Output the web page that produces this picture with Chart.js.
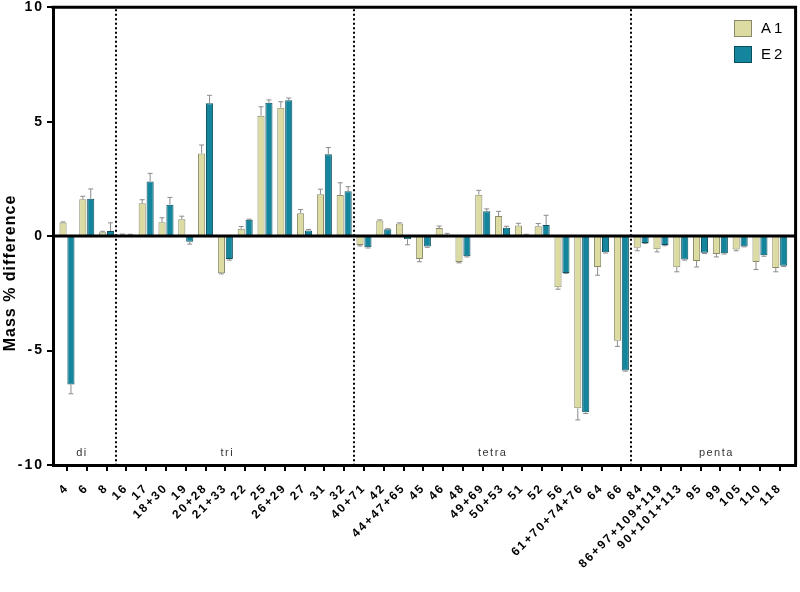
<!DOCTYPE html>
<html><head><meta charset="utf-8">
<script src="https://cdn.jsdelivr.net/npm/chart.js@4"></script>
<style>html,body{margin:0;padding:0;background:#fff}</style>
</head><body>
<canvas id="c" width="800" height="592" style="width:800px;height:592px;display:block"></canvas>
<script>
const categories = ['4','6','8','16','17','18+30','19','20+28','21+33','22','25','26+29','27','31','32',
  '40+71','42','44+47+65','45','46','48','49+69','50+53','51','52','56','61+70+74+76','64','66',
  '84','86+97+109+119','90+101+113','95','99','105','110','118'];
const a1Values = [0.59,1.61,0.17,0.05,1.43,0.61,0.74,3.61,-1.62,0.32,5.26,5.61,1.00,1.83,1.80,
  -0.39,0.68,0.55,-1.00,0.35,-1.13,1.81,0.88,0.46,0.43,-2.23,-7.52,-1.35,-4.57,
  -0.51,-0.57,-1.36,-1.09,-0.78,-0.58,-1.13,-1.39];
const a1Errors = [0.03,0.13,0.04,0.04,0.16,0.19,0.13,0.37,0.03,0.10,0.39,0.26,0.16,0.22,0.53,
  0.04,0.03,0.03,0.12,0.09,0.04,0.19,0.20,0.10,0.12,0.09,0.51,0.36,0.25,
  0.13,0.12,0.20,0.26,0.13,0.06,0.33,0.17];
const e2Values = [-6.48,1.63,0.22,0.02,2.39,1.37,-0.25,5.80,-1.00,0.71,5.83,5.94,0.25,3.58,1.96,
  -0.49,0.30,-0.14,-0.45,0.04,-0.88,1.09,0.36,0.06,0.49,-1.61,-7.70,-0.71,-5.87,
  -0.30,-0.39,-1.02,-0.73,-0.75,-0.45,-0.84,-1.30];
const e2Errors = [0.41,0.43,0.36,0.06,0.35,0.32,0.10,0.35,0.05,0.03,0.12,0.09,0.04,0.29,0.20,
  0.03,0.02,0.24,0.04,0.08,0.03,0.10,0.07,0.02,0.42,0.02,0.05,0.03,0.03,
  0.02,0.03,0.03,0.03,0.03,0.02,0.04,0.03];
const seriesNames = ['A1','E2'];
const yTicks = [-10,-5,0,5,10];
const groupNames = ['di','tri','tetra','penta'];
const groupDividers = [2.5, 14.5, 28.5];
const groupLabelAt = [0.76, 8.1, 21.5, 32.8];

const A1_FILL = '#dcdca2', A1_BORDER = '#8a8a6a';
const E2_FILL = '#13869d', E2_BORDER = '#0b4e5c';
const FONT = "'Liberation Sans', Arial, Helvetica, sans-serif";

const errorsBy = [a1Errors, e2Errors];

const decor = {
  id: 'decor',
  beforeUpdate(chart) { chart.ctx.letterSpacing = '2px'; },
  beforeDraw(chart) { chart.ctx.letterSpacing = '2px'; },
  afterDatasetsDraw(chart) {
    const ctx = chart.ctx, ys = chart.scales.y, xs = chart.scales.x, ca = chart.chartArea;
    ctx.save();
    ctx.strokeStyle = '#8c8c8c';
    ctx.lineWidth = 1;
    chart.data.datasets.forEach((ds, di) => {
      const meta = chart.getDatasetMeta(di);
      meta.data.forEach((el, i) => {
        const v = ds.data[i].y, e = errorsBy[di][i];
        const s = v >= 0 ? 1 : -1;
        const yEnd = ys.getPixelForValue(v + s * e);
        const yStart = ys.getPixelForValue(v);
        ctx.beginPath();
        ctx.moveTo(el.x, yStart); ctx.lineTo(el.x, yEnd);
        ctx.moveTo(el.x - 2.5, yEnd); ctx.lineTo(el.x + 2.5, yEnd);
        ctx.stroke();
      });
    });
    ctx.restore();
    ctx.save();
    const y0 = ys.getPixelForValue(0);
    ctx.strokeStyle = '#000'; ctx.lineWidth = 3;
    ctx.beginPath(); ctx.moveTo(ca.left, y0); ctx.lineTo(ca.right, y0); ctx.stroke();
    ctx.lineWidth = 2; ctx.setLineDash([2, 2.5]);
    groupDividers.forEach(d => {
      const x = Math.round(xs.getPixelForValue(d));
      ctx.beginPath(); ctx.moveTo(x, ca.top + 2); ctx.lineTo(x, ca.bottom); ctx.stroke();
    });
    ctx.restore();
  },
  afterDraw(chart) {
    const ctx = chart.ctx, xs = chart.scales.x, ca = chart.chartArea;
    ctx.save();
    ctx.strokeStyle = '#000'; ctx.lineWidth = 3;
    ctx.beginPath();
    ctx.moveTo(ca.left - 1.5, ca.top); ctx.lineTo(ca.right, ca.top); ctx.lineTo(ca.right, ca.bottom);
    ctx.stroke();
    ctx.letterSpacing = '1.5px';
    ctx.fillStyle = '#333';
    ctx.font = '11px ' + FONT;
    ctx.textAlign = 'center'; ctx.textBaseline = 'middle';
    groupNames.forEach((g, i) => ctx.fillText(g, xs.getPixelForValue(groupLabelAt[i]), 453));
    const cols = [[A1_FILL, A1_BORDER], [E2_FILL, E2_BORDER]];
    ctx.font = '15px ' + FONT;
    ctx.letterSpacing = '3px';
    ctx.textAlign = 'left';
    seriesNames.forEach((n, i) => {
      const y = 20 + i * 26;
      ctx.fillStyle = cols[i][0]; ctx.fillRect(734, y, 17, 16);
      ctx.strokeStyle = cols[i][1]; ctx.lineWidth = 1; ctx.strokeRect(734.5, y + 0.5, 17, 16);
      ctx.fillStyle = '#000';
      ctx.fillText(n, 761, y + 9);
    });
    ctx.letterSpacing = '1px';
    ctx.font = 'bold 16px ' + FONT;
    ctx.translate(11, 273);
    ctx.rotate(-Math.PI / 2);
    ctx.textAlign = 'center'; ctx.textBaseline = 'middle';
    ctx.fillText('Mass % difference', 0, 0);
    ctx.restore();
  }
};

new Chart(document.getElementById('c'), {
  type: 'bar',
  data: {
    datasets: [
      { label: seriesNames[0], data: a1Values.map((v, i) => ({x: i, y: v})),
        backgroundColor: A1_FILL, borderColor: A1_BORDER, borderWidth: 1 },
      { label: seriesNames[1], data: e2Values.map((v, i) => ({x: i, y: v})),
        backgroundColor: E2_FILL, borderColor: E2_BORDER, borderWidth: 1 }
    ]
  },
  options: {
    responsive: false,
    animation: false,
    devicePixelRatio: 1,
    categoryPercentage: 0.8,
    barPercentage: 0.9,
    layout: { padding: { top: 5, right: 3, left: 0, bottom: 0 } },
    plugins: { legend: { display: false }, tooltip: { enabled: false } },
    scales: {
      x: {
        type: 'linear', offset: false, min: -0.706, max: 36.8,
        afterBuildTicks: s => { s.ticks = categories.map((_, i) => ({value: i})); },
        afterFit: s => { s.height = 127; },
        grid: { offset: false, drawOnChartArea: false, color: '#000', lineWidth: 2, tickLength: 6 },
        border: { display: true, color: '#000', width: 3 },
        ticks: {
          autoSkip: false, minRotation: 45, maxRotation: 45, padding: 10, color: '#000',
          font: { family: FONT, size: 12, weight: 'bold' },
          callback: v => categories[v]
        }
      },
      y: {
        min: -10, max: 10,
        afterBuildTicks: s => { s.ticks = yTicks.map(v => ({value: v})); },
        afterFit: s => { s.width = 53; },
        grid: { drawOnChartArea: false, color: '#000', lineWidth: 2, tickLength: 6 },
        border: { display: true, color: '#000', width: 3 },
        ticks: { color: '#000', padding: 3, font: { family: FONT, size: 14, weight: 'bold', lineHeight: 0.6 } }
      }
    }
  },
  plugins: [decor]
});
</script>
</body></html>
